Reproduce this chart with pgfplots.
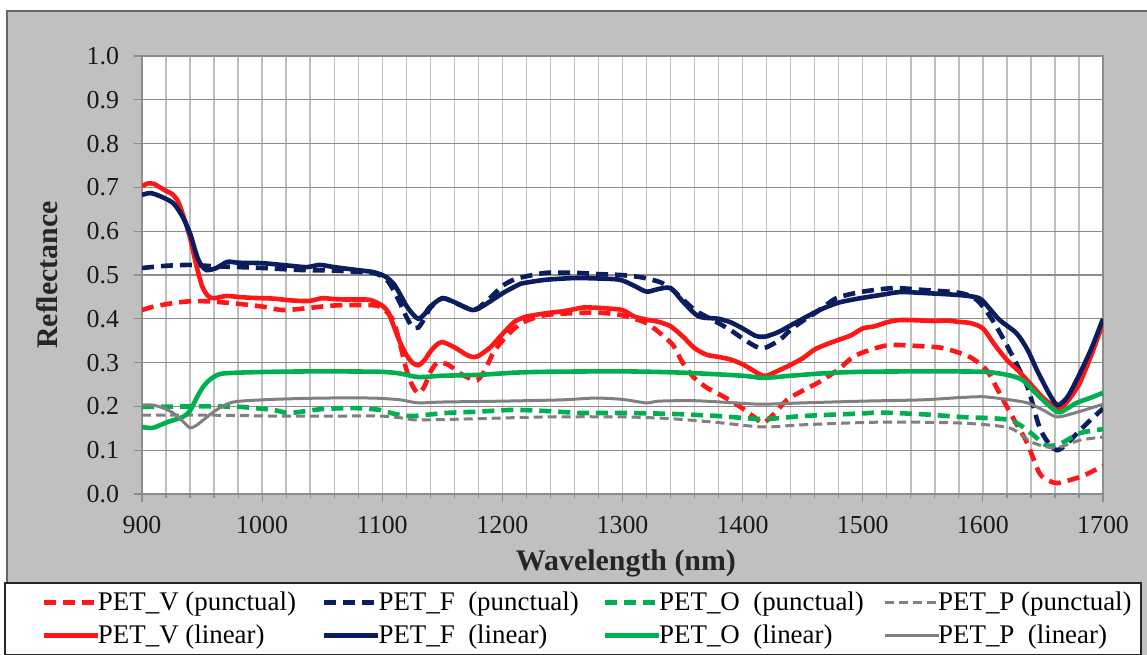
\documentclass[border=0pt]{standalone}
\usepackage{fontspec}
\setmainfont{Liberation Serif}
\usepackage{pgfplots}
\pgfplotsset{compat=1.18}
\definecolor{cRed}{RGB}{255,22,22}
\definecolor{cNavy}{RGB}{10,30,95}
\definecolor{cGreen}{RGB}{0,176,80}
\definecolor{cGray}{RGB}{128,128,128}
\definecolor{bgGray}{RGB}{192,192,192}
\begin{document}
\begin{tikzpicture}
\fill[white] (0,0) rectangle (573.5bp,327.5bp);
\filldraw[fill=bgGray, draw=gray!80!black, line width=0.6bp] (3.5bp,-1bp) rectangle (575bp,322bp);
\filldraw[fill=white, draw=black!85, line width=0.7bp] (2.5bp,0.4bp) rectangle (570.5bp,36bp);
\begin{axis}[
  at={(71bp,80.5bp)}, anchor=south west,
  scale only axis, width=480.5bp, height=219bp,
  xmin=900, xmax=1700, ymin=0, ymax=1,
  axis background/.style={fill=white},
  xtick={900,1000,1100,1200,1300,1400,1500,1600,1700},
  minor xtick={920,940,960,980,1020,1040,1060,1080,1120,1140,1160,1180,1220,1240,1260,1280,1320,1340,1360,1380,1420,1440,1460,1480,1520,1540,1560,1580,1620,1640,1660,1680},
  ytick={0,0.1,0.2,0.3,0.4,0.5,0.6,0.7,0.8,0.9,1.0},
  xmajorgrids, xminorgrids, ymajorgrids,
  x grid style={draw=black!25, line width=0.7bp},
  y grid style={draw=black!45, line width=0.6bp},
  axis line style={draw=black!45, line width=0.6bp},
  tick pos=left, tick align=outside,
  major tick length=4bp, minor tick length=2bp,
  tick style={draw=black!45, line width=0.6bp},
  /pgf/number format/assume math mode=true,
  /pgf/number format/1000 sep={},
  ticklabel style={font=\fontsize{13}{15}\selectfont, text=black!90},
  yticklabel style={/pgf/number format/fixed, /pgf/number format/fixed zerofill, /pgf/number format/precision=1, xshift=-4bp},
  xticklabel style={yshift=-3.5bp},
  xlabel={Wavelength (nm)},
  ylabel={Reflectance},
  label style={font=\bfseries\fontsize{15}{17}\selectfont, text=black!85},
  xlabel style={at={(axis description cs:0.5036,-0.1575)}, anchor=center},
  ylabel style={at={(axis description cs:-0.0989,0.5)}, anchor=center},
  legend columns=4,
  legend cell align=left,
  legend image code/.code={\draw[#1] (0bp,0bp) -- (27bp,0bp);},
  legend style={at={(-0.1051,-0.2854)}, anchor=west, draw=none, fill=none, inner sep=0pt,
    font=\fontsize{13.5}{15}\selectfont,
    nodes={inner sep=0.5bp},
    /tikz/row sep=4.5bp,
    /tikz/every odd column/.style={column sep=-1.5bp},
    /tikz/every even column/.style={column sep=6.5bp}},
  every axis plot/.append style={smooth, tension=0.45},
]
% ---- punctual (dashed)
\addplot[cRed, line width=2.3bp, dash pattern=on 6bp off 3.5bp] coordinates {
(900,0.420)(910,0.428)(926,0.436)(940,0.440)(954,0.440)(965,0.438)(981,0.434)(1000,0.428)(1017,0.420)(1037,0.424)(1050,0.428)(1065,0.431)(1092,0.431)(1100,0.425)(1109,0.397)(1115,0.340)(1120,0.285)(1125,0.248)(1130,0.230)(1135,0.245)(1140,0.278)(1146,0.300)(1155,0.295)(1165,0.275)(1172,0.265)(1179,0.260)(1185,0.280)(1192,0.320)(1200,0.350)(1210,0.378)(1217,0.392)(1230,0.405)(1240,0.410)(1260,0.413)(1280,0.414)(1298,0.409)(1310,0.400)(1320,0.390)(1330,0.370)(1342,0.340)(1350,0.300)(1359,0.267)(1370,0.243)(1379,0.230)(1390,0.213)(1398,0.199)(1410,0.175)(1417,0.162)(1425,0.180)(1437,0.215)(1450,0.236)(1464,0.256)(1480,0.285)(1492,0.313)(1505,0.328)(1522,0.340)(1545,0.338)(1567,0.333)(1589,0.313)(1603,0.283)(1612,0.240)(1620,0.199)(1630,0.150)(1637,0.116)(1647,0.048)(1655,0.030)(1662,0.025)(1670,0.030)(1681,0.039)(1690,0.050)(1700,0.065)};
\addlegendentry{\makebox[105bp][l]{PET\_V (punctual)}}
\addplot[cNavy, line width=2.3bp, dash pattern=on 6bp off 3.5bp] coordinates {
(900,0.516)(920,0.521)(940,0.523)(960,0.520)(981,0.518)(1000,0.516)(1020,0.513)(1037,0.511)(1060,0.510)(1080,0.507)(1092,0.505)(1100,0.497)(1105,0.485)(1110,0.462)(1115,0.435)(1120,0.405)(1125,0.382)(1130,0.380)(1135,0.400)(1140,0.425)(1150,0.447)(1160,0.437)(1170,0.425)(1175,0.420)(1180,0.425)(1190,0.448)(1200,0.475)(1210,0.490)(1220,0.497)(1237,0.505)(1260,0.505)(1280,0.502)(1298,0.500)(1315,0.495)(1331,0.484)(1340,0.470)(1350,0.445)(1360,0.420)(1367,0.409)(1380,0.390)(1390,0.374)(1400,0.355)(1410,0.338)(1415,0.333)(1420,0.335)(1431,0.352)(1440,0.375)(1450,0.395)(1464,0.420)(1478,0.447)(1498,0.461)(1525,0.470)(1550,0.466)(1581,0.459)(1595,0.443)(1608,0.397)(1622,0.329)(1637,0.245)(1647,0.153)(1655,0.115)(1662,0.100)(1670,0.115)(1681,0.146)(1690,0.170)(1700,0.195)};
\addlegendentry{\makebox[105bp][l]{PET\_F\ \ (punctual)}}
\addplot[cGreen, line width=2.3bp, dash pattern=on 6bp off 3.5bp] coordinates {
(900,0.199)(954,0.200)(981,0.199)(1009,0.192)(1023,0.185)(1050,0.194)(1078,0.196)(1098,0.192)(1110,0.183)(1125,0.178)(1153,0.185)(1180,0.188)(1209,0.192)(1240,0.189)(1265,0.185)(1298,0.185)(1340,0.183)(1380,0.178)(1417,0.171)(1450,0.178)(1500,0.184)(1514,0.186)(1550,0.182)(1581,0.176)(1622,0.169)(1640,0.139)(1652,0.112)(1663,0.113)(1681,0.139)(1700,0.148)};
\addlegendentry{\makebox[105bp][l]{PET\_O\ \ (punctual)}}
\addplot[cGray, line width=1.5bp, dash pattern=on 4.5bp off 2.5bp] coordinates {
(900,0.180)(954,0.180)(1009,0.178)(1065,0.178)(1098,0.178)(1115,0.174)(1130,0.169)(1180,0.172)(1237,0.176)(1300,0.176)(1340,0.172)(1380,0.163)(1417,0.153)(1450,0.158)(1514,0.164)(1581,0.162)(1622,0.151)(1640,0.119)(1660,0.105)(1681,0.123)(1700,0.130)};
\addlegendentry{PET\_P (punctual)}
% ---- linear (solid)
\addplot[cRed, line width=2.3bp] coordinates {
(900,0.703)(905,0.709)(910,0.708)(915,0.700)(920,0.692)(925,0.685)(930,0.668)(935,0.630)(940,0.585)(945,0.525)(950,0.475)(955,0.452)(960,0.447)(970,0.452)(980,0.450)(990,0.448)(1000,0.447)(1010,0.446)(1020,0.443)(1030,0.441)(1040,0.441)(1050,0.447)(1060,0.445)(1070,0.444)(1080,0.444)(1090,0.443)(1100,0.430)(1105,0.415)(1110,0.380)(1115,0.345)(1120,0.318)(1125,0.300)(1130,0.294)(1135,0.305)(1140,0.325)(1145,0.340)(1150,0.347)(1160,0.335)(1170,0.318)(1175,0.313)(1180,0.315)(1190,0.335)(1200,0.365)(1210,0.393)(1215,0.400)(1220,0.405)(1230,0.410)(1240,0.414)(1250,0.417)(1260,0.422)(1265,0.425)(1270,0.426)(1280,0.425)(1290,0.423)(1300,0.420)(1310,0.405)(1320,0.398)(1330,0.393)(1340,0.383)(1350,0.360)(1360,0.333)(1370,0.318)(1380,0.313)(1390,0.307)(1400,0.296)(1410,0.280)(1415,0.272)(1420,0.270)(1430,0.282)(1440,0.295)(1450,0.310)(1460,0.330)(1470,0.342)(1480,0.352)(1490,0.362)(1500,0.378)(1510,0.383)(1520,0.392)(1530,0.397)(1540,0.397)(1550,0.396)(1560,0.395)(1570,0.396)(1580,0.393)(1590,0.390)(1600,0.378)(1610,0.340)(1620,0.306)(1630,0.280)(1640,0.250)(1650,0.220)(1660,0.198)(1665,0.196)(1670,0.210)(1680,0.250)(1690,0.315)(1700,0.390)};
\addlegendentry{\makebox[105bp][l]{PET\_V (linear)}}
\addplot[cNavy, line width=2.3bp] coordinates {
(900,0.683)(907,0.687)(915,0.680)(926,0.664)(934,0.632)(940,0.595)(946,0.541)(950,0.520)(954,0.511)(962,0.516)(971,0.530)(980,0.528)(1000,0.527)(1020,0.522)(1037,0.518)(1048,0.523)(1060,0.518)(1080,0.511)(1092,0.507)(1100,0.500)(1105,0.492)(1110,0.478)(1115,0.455)(1120,0.430)(1125,0.412)(1130,0.400)(1135,0.410)(1140,0.428)(1150,0.447)(1160,0.438)(1170,0.425)(1175,0.420)(1180,0.423)(1190,0.440)(1200,0.458)(1210,0.473)(1215,0.480)(1230,0.487)(1240,0.490)(1260,0.493)(1280,0.492)(1298,0.489)(1310,0.475)(1320,0.462)(1330,0.468)(1340,0.470)(1350,0.440)(1360,0.412)(1365,0.404)(1370,0.402)(1380,0.400)(1390,0.392)(1400,0.378)(1410,0.362)(1415,0.359)(1420,0.360)(1430,0.370)(1440,0.385)(1450,0.400)(1464,0.420)(1480,0.437)(1498,0.447)(1514,0.454)(1531,0.461)(1550,0.459)(1581,0.454)(1597,0.447)(1605,0.425)(1614,0.397)(1628,0.367)(1637,0.330)(1645,0.283)(1655,0.230)(1662,0.203)(1670,0.220)(1678,0.260)(1690,0.330)(1700,0.400)};
\addlegendentry{\makebox[105bp][l]{PET\_F\ \ (linear)}}
\addplot[cGreen, line width=2.3bp] coordinates {
(900,0.153)(909,0.151)(921,0.164)(934,0.176)(940,0.190)(946,0.222)(951,0.245)(957,0.262)(965,0.274)(980,0.277)(1009,0.279)(1050,0.280)(1098,0.279)(1115,0.275)(1130,0.267)(1150,0.270)(1180,0.272)(1210,0.277)(1237,0.279)(1300,0.280)(1350,0.277)(1400,0.270)(1417,0.265)(1440,0.270)(1470,0.276)(1500,0.279)(1550,0.280)(1600,0.279)(1620,0.272)(1633,0.260)(1647,0.222)(1662,0.187)(1670,0.195)(1678,0.208)(1690,0.220)(1700,0.231)};
\addlegendentry{\makebox[105bp][l]{PET\_O\ \ (linear)}}
\addplot[cGray, line width=1.5bp] coordinates {
(900,0.203)(909,0.203)(918,0.196)(926,0.185)(934,0.166)(940,0.151)(946,0.158)(951,0.169)(962,0.192)(976,0.210)(1009,0.216)(1050,0.219)(1092,0.219)(1115,0.215)(1130,0.208)(1150,0.210)(1200,0.212)(1250,0.215)(1277,0.219)(1300,0.216)(1320,0.208)(1330,0.212)(1360,0.213)(1400,0.207)(1417,0.205)(1450,0.208)(1500,0.212)(1550,0.215)(1580,0.220)(1600,0.222)(1620,0.216)(1637,0.208)(1650,0.192)(1662,0.176)(1680,0.188)(1700,0.205)};
\addlegendentry{PET\_P\ \ (linear)}
\end{axis}
\pgfresetboundingbox
\path[use as bounding box] (0,0) rectangle (573.5bp,327.5bp);
\end{tikzpicture}
\end{document}
